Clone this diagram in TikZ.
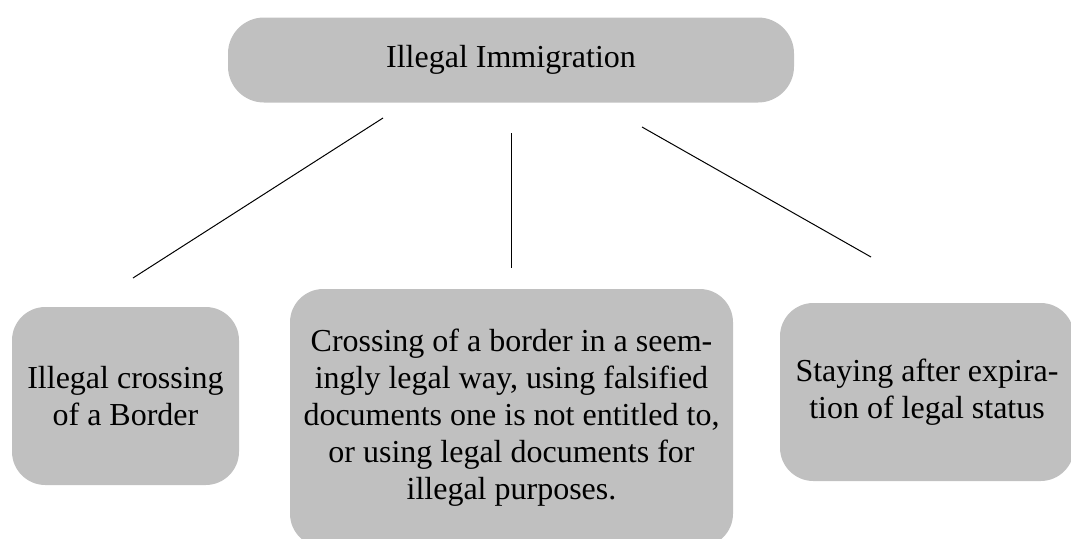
\documentclass[tikz,border=0pt]{standalone}
\usepackage{fontspec}
\setmainfont{Liberation Serif}
\definecolor{boxgray}{RGB}{192,192,192}
\tikzset{
  topic/.style={
    rectangle,
    fill=boxgray,
    rounded corners=27pt,
    inner sep=0pt,
    align=center,
    font=\fontsize{24}{27.75}\selectfont
  },
  kind/.style={topic,rounded corners=25pt},
  link/.style={line width=0.75pt}
}

\begin{document}
\begin{tikzpicture}[x=0.75pt,y=-0.75pt]
  \useasboundingbox (0,0) rectangle (1071,539);
  \clip (0,0) rectangle (1071,539);

  % Root of the classification.
  \node[topic,minimum width=424.5pt,minimum height=63.75pt] (root)
    at (511,60) {Illegal Immigration};

  % The three kinds.
  \node[kind,minimum width=170.25pt,minimum height=133.5pt] (cross)
    at (125.5,396) {Illegal crossing\\of a Border};
  \node[kind,minimum width=332.25pt,minimum height=193.5pt] (papers)
    at (511.5,418)
    {Crossing of a border in a seem-\\ingly legal way, using falsified\\documents one is not entitled to,\\or using legal documents for\\illegal purposes.};
  \node[kind,minimum width=220.5pt,minimum height=133.5pt] (stay)
    at (927,392) {Staying after expira-\\tion of legal status};

  % Connector ends (the lines stop short of the boxes).
  \coordinate (c1a) at (383,118);
  \coordinate (c1b) at (133,278);
  \coordinate (c2a) at (511,133);
  \coordinate (c2b) at (511,268);
  \coordinate (c3a) at (642,127);
  \coordinate (c3b) at (871,257);

  \draw[link] (c1a) -- (c1b);
  \draw[link] (c2a) -- (c2b);
  \draw[link] (c3a) -- (c3b);
\end{tikzpicture}
\end{document}
